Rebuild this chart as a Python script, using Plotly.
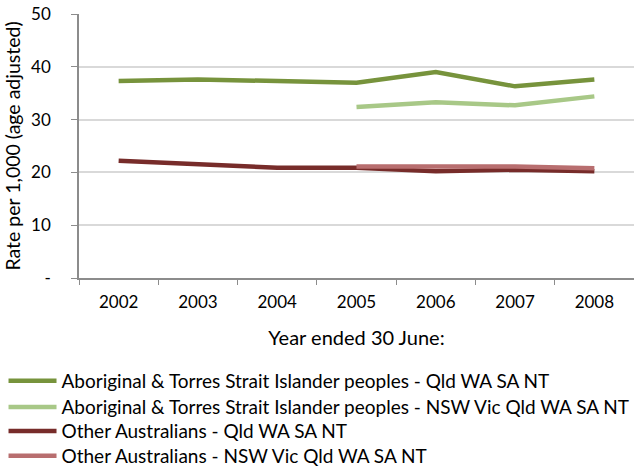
import plotly.graph_objects as go

years = ["2002", "2003", "2004", "2005", "2006", "2007", "2008"]
atsi_qld_wa_sa_nt = [37.3, 37.6, 37.3, 37.0, 39.0, 36.3, 37.6]
atsi_nsw_vic = [None, None, None, 32.4, 33.3, 32.7, 34.4]
other_qld_wa_sa_nt = [22.2, 21.6, 20.9, 20.9, 20.2, 20.5, 20.2]
other_nsw_vic = [None, None, None, 21.1, 21.1, 21.1, 20.8]

names = [
    "Aboriginal & Torres Strait Islander peoples - Qld WA SA NT",
    "Aboriginal & Torres Strait Islander peoples - NSW Vic Qld WA SA NT",
    "Other Australians - Qld WA SA NT",
    "Other Australians - NSW Vic Qld WA SA NT",
]
colors = ["#77933C", "#A8C887", "#772C2A", "#B86E6F"]
series = [atsi_qld_wa_sa_nt, atsi_nsw_vic, other_qld_wa_sa_nt, other_nsw_vic]

y_ticks = [0, 10, 20, 30, 40, 50]
y_ticktext = ["-", "10", "20", "30", "40", "50"]

font_family = "Lato, 'Open Sans', sans-serif"

# one legend per entry so each row can sit where the reference places it
legend_ids = ["legend", "legend2", "legend3", "legend4"]
legend_rows = [-0.390, -0.489, -0.580, -0.674]

fig = go.Figure()
for name, col, vals, lid in zip(names, colors, series, legend_ids):
    fig.add_trace(go.Scatter(
        x=years, y=vals, name=name, mode="lines",
        line=dict(color=col, width=4.5), legend=lid,
    ))

legend_common = dict(
    orientation="v", x=-0.136, xanchor="left", yanchor="middle",
    font=dict(size=19), itemwidth=48, bgcolor="rgba(0,0,0,0)",
)
legend_layout = {lid: dict(legend_common, y=yr) for lid, yr in zip(legend_ids, legend_rows)}

fig.update_layout(
    width=634, height=467,
    margin=dict(l=79, r=0, t=14, b=189, autoexpand=False),
    paper_bgcolor="white", plot_bgcolor="white",
    font=dict(family=font_family, size=17, color="#000000"),
    showlegend=True,
    xaxis=dict(
        type="category", range=[-0.5, 6.5], automargin=False,
        showgrid=False, showline=True, linecolor="#8C8C8C", linewidth=1.5,
        ticks="outside", tickson="boundaries", ticklen=5, tickcolor="#8C8C8C",
        title=dict(text="Year ended 30 June:", font=dict(size=20), standoff=20),
        tickfont=dict(size=17), ticklabelstandoff=8,
    ),
    yaxis=dict(
        range=[0, 50], tickvals=y_ticks, ticktext=y_ticktext, automargin=False,
        showgrid=True, gridcolor="#D9D9D9", gridwidth=1.5,
        showline=True, linecolor="#8C8C8C", linewidth=1.5,
        ticks="outside", ticklen=6, tickcolor="#8C8C8C",
        title=dict(text="Rate per 1,000 (age adjusted)", font=dict(size=19.5), standoff=5),
        tickfont=dict(size=17), zeroline=False, ticklabelstandoff=17,
    ),
    **legend_layout,
)

fig.write_html(
    "out.html",
    config={"displayModeBar": False},
    post_script="document.body.style.margin='0';document.body.style.overflow='hidden';",
)
